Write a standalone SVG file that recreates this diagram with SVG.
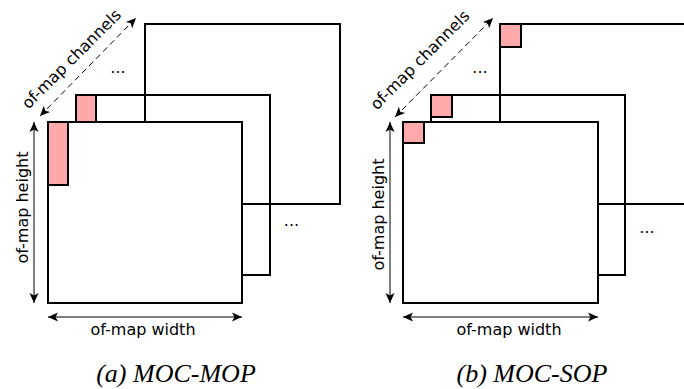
<svg xmlns="http://www.w3.org/2000/svg" width="684" height="389" viewBox="0 0 684 389">
  <style>
    .map { fill: none; stroke: #000; stroke-width: 2; }
    .front { fill: #fff; stroke: #000; stroke-width: 2; }
    .tile { fill: #ffaaaa; stroke: #000; stroke-width: 2; }
    .dim { stroke: #000; stroke-width: 1; fill: none; marker-start: url(#head); marker-end: url(#head); }
    .dash { stroke-dasharray: 6 4; }
    .lbl { font-family: "DejaVu Sans", sans-serif; font-size: 16px; fill: #000; text-anchor: middle; }
    .cap { font-family: "Liberation Serif", serif; font-style: italic; font-size: 26px; fill: #000; text-anchor: middle; }
  </style>
  <defs>
    <marker id="head" viewBox="-11 -5 12 10" refX="0" refY="0" markerWidth="12" markerHeight="10" markerUnits="userSpaceOnUse" orient="auto-start-reverse">
      <path d="M0,0 L-10,-4.5 L-7.5,0 L-10,4.5 Z" fill="#000"/>
    </marker>
  </defs>
  <rect width="684" height="389" fill="#fff"/>

  <!-- (a) MOC-MOP -->
  <g id="mop-map-back">
    <rect class="map" x="145" y="24" width="195" height="180"/>
  </g>
  <g id="mop-map-mid">
    <rect class="map" x="76" y="95" width="194" height="180"/>
  </g>
  <g id="mop-map-front">
    <rect class="front" x="48" y="122" width="194" height="181"/>
  </g>
  <g id="mop-tile-mid">
    <rect class="tile" x="76" y="95" width="20" height="27"/>
  </g>
  <g id="mop-tile-front">
    <rect class="tile" x="48" y="122" width="20" height="63"/>
  </g>
  <g id="mop-labels">
    <text class="lbl" x="118" y="73">...</text>
    <text class="lbl" x="291.5" y="226">...</text>
    <text class="lbl" transform="translate(75.3,62.8) rotate(-45)">of-map channels</text>
    <text class="lbl" transform="translate(28,207.5) rotate(-90)">of-map height</text>
    <text class="lbl" x="143" y="335">of-map width</text>
    <text class="cap" x="176" y="382">(a) MOC-MOP</text>
  </g>

  <!-- (b) MOC-SOP -->
  <g id="sop-map-back">
    <rect class="map" x="500" y="24" width="195" height="180"/>
  </g>
  <g id="sop-map-mid">
    <rect class="map" x="431" y="95" width="194" height="180"/>
  </g>
  <g id="sop-map-front">
    <rect class="front" x="403" y="122" width="195" height="181"/>
  </g>
  <g id="sop-tile-back">
    <rect class="tile" x="500" y="24" width="21" height="23"/>
  </g>
  <g id="sop-tile-mid">
    <rect class="tile" x="431" y="95" width="21" height="22"/>
  </g>
  <g id="sop-tile-front">
    <rect class="tile" x="403" y="122" width="21" height="21"/>
  </g>
  <g id="sop-labels">
    <text class="lbl" x="480" y="73">...</text>
    <text class="lbl" x="647" y="233">...</text>
    <text class="lbl" transform="translate(423.8,63.8) rotate(-45)">of-map channels</text>
    <text class="lbl" transform="translate(384,214.5) rotate(-90)">of-map height</text>
    <text class="lbl" x="509" y="335">of-map width</text>
    <text class="cap" x="532" y="382">(b) MOC-SOP</text>
  </g>

  <!-- dimension arrows -->
  <g id="connectors">
    <line class="dim dash" x1="40" y1="116" x2="136" y2="18"/>
    <line class="dim" x1="34" y1="122" x2="34" y2="303"/>
    <line class="dim" x1="48" y1="317" x2="242" y2="317"/>
    <line class="dim dash" x1="395" y1="117" x2="493" y2="18"/>
    <line class="dim" x1="390" y1="122" x2="390" y2="303"/>
    <line class="dim" x1="403" y1="317" x2="598" y2="317"/>
  </g>
</svg>
